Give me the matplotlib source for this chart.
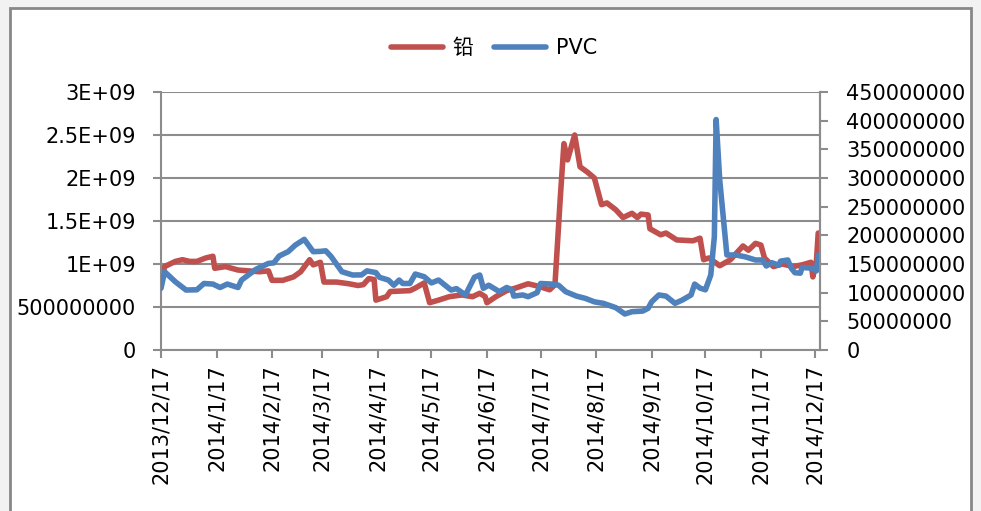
import matplotlib
matplotlib.use('Agg')
import matplotlib.pyplot as plt
from matplotlib.patches import Rectangle
from matplotlib.ticker import FixedLocator, FuncFormatter
import numpy as np

plt.rcParams['font.family'] = ['DejaVu Sans', 'Noto Sans CJK SC']

# ------------------------------- data ------------------------------------- #
start = np.datetime64('2013-12-17')

# 铅 (left axis), days since 2013/12/17 and value in units of 1e9
lead_days = [0, 2, 8, 12, 16, 20, 25, 29, 30, 36, 43, 49, 55, 60, 62, 68, 74, 78,
             83, 85, 89, 91, 98, 105, 110, 113, 116, 119, 120, 126, 128, 139, 142,
             147, 150, 155, 161, 168, 174, 178, 181, 182, 187, 193, 198, 205, 211,
             217, 220, 223, 225, 227, 231, 234, 238, 242, 246, 249, 254, 258, 263,
             266, 268, 272, 273, 279, 282, 288, 297, 301, 303, 306, 312, 318, 325,
             328, 332, 335, 337, 342, 347, 353, 358, 363, 364, 366, 367]
lead_vals = [0.78, 0.97, 1.03, 1.05, 1.03, 1.03, 1.07, 1.09, 0.95, 0.97, 0.93, 0.92,
             0.91, 0.92, 0.81, 0.81, 0.85, 0.91, 1.05, 0.99, 1.02, 0.79, 0.79, 0.77,
             0.75, 0.76, 0.83, 0.82, 0.58, 0.62, 0.68, 0.69, 0.72, 0.78, 0.55, 0.58,
             0.62, 0.64, 0.62, 0.66, 0.62, 0.55, 0.62, 0.69, 0.72, 0.77, 0.74, 0.70,
             0.76, 1.78, 2.40, 2.21, 2.50, 2.13, 2.07, 2.00, 1.69, 1.71, 1.63, 1.54,
             1.59, 1.54, 1.58, 1.57, 1.41, 1.34, 1.36, 1.28, 1.27, 1.30, 1.05, 1.07,
             0.98, 1.05, 1.21, 1.16, 1.24, 1.22, 1.07, 0.97, 1.00, 0.97, 0.99, 1.02,
             0.85, 1.03, 1.36]

# PVC (right axis), days since 2013/12/17 and value in millions
pvc_days = [0, 2, 8, 14, 20, 24, 29, 33, 37, 43, 45, 53, 60, 63, 66, 71, 75, 80, 85,
            89, 92, 95, 101, 107, 112, 115, 120, 122, 127, 130, 133, 135, 139, 142,
            147, 151, 155, 162, 165, 170, 175, 178, 180, 183, 189, 193, 196, 197, 202,
            205, 210, 212, 218, 222, 226, 232, 237, 242, 247, 254, 259, 263, 269, 272,
            274, 278, 282, 287, 291, 296, 298, 301, 304, 307, 309, 310, 312, 316, 321,
            326, 332, 336, 338, 341, 345, 346, 350, 352, 354, 357, 358, 364, 366, 367]
pvc_vals = [107.6, 136.6, 119, 104.6, 105, 116, 115, 109, 115, 109, 122, 140.7, 151,
            152, 164, 171.5, 183, 193, 171.5, 172, 173, 163, 136.6, 130.8, 131, 138,
            135, 126.8, 122, 113, 122, 116, 116, 132.5, 127.8, 117, 122, 104.6, 107,
            96, 126.8, 130.8, 107.6, 113, 101.7, 109, 105, 94, 96, 93, 100, 116, 115,
            113, 101.7, 94, 90, 84, 81.4, 73.8, 62.8, 66.8, 67.9, 72.7, 84, 96, 94,
            81.4, 87, 96, 115, 108, 105, 130.8, 197.7, 402, 296.5, 165.7, 165.7, 162.7,
            157, 157, 146.5, 152.3, 148, 155, 157, 142.5, 134.8, 134, 144, 142.5, 138,
            165.7]

left_ticks = [0, 500000000, 1e9, 1.5e9, 2e9, 2.5e9, 3e9]
left_labels = ['0', '500000000', '1E+09', '1.5E+09', '2E+09', '2.5E+09', '3E+09']
right_ticks = list(range(0, 450000001, 50000000))
month_ticks = ['2013-12-17', '2014-01-17', '2014-02-17', '2014-03-17', '2014-04-17',
               '2014-05-17', '2014-06-17', '2014-07-17', '2014-08-17', '2014-09-17',
               '2014-10-17', '2014-11-17', '2014-12-17']

# ------------------------------- figure ----------------------------------- #
RED = '#C0504D'
BLUE = '#4F81BD'
GRID = '#8C8C8C'
FS = 15

fig = plt.figure(figsize=(9.81, 5.11), dpi=100)
fig.patch.set_facecolor('#F2F2F2')
panel = Rectangle((10 / 981, -0.01), 961 / 981, 1 - 8 / 511 + 0.01,
                  transform=fig.transFigure, facecolor='white',
                  edgecolor='#878787', linewidth=2, zorder=-10)
fig.patches.append(panel)

ax = fig.add_axes([161 / 981, 1 - 350 / 511, 659 / 981, 258 / 511])
ax.patch.set_alpha(0)
ax2 = ax.twinx()
ax2.patch.set_alpha(0)

lead_x = start + np.array(lead_days).astype('timedelta64[D]')
pvc_x = start + np.array(pvc_days).astype('timedelta64[D]')
l1, = ax.plot(lead_x, np.array(lead_vals) * 1e9, color=RED, lw=4,
              solid_joinstyle='round', solid_capstyle='round', label='铅')
l2, = ax2.plot(pvc_x, np.array(pvc_vals) * 1e6, color=BLUE, lw=4,
               solid_joinstyle='round', solid_capstyle='round', label='PVC')

ax.set_xlim(start, start + np.timedelta64(368, 'D'))
ax.set_ylim(0, 3e9)
ax2.set_ylim(0, 450000000)

ax.yaxis.set_major_locator(FixedLocator(left_ticks))
ax.set_yticklabels(left_labels)
ax2.yaxis.set_major_locator(FixedLocator(right_ticks))
ax2.yaxis.set_major_formatter(FuncFormatter(lambda v, p: '%d' % v))

xt = [np.datetime64(d) for d in month_ticks]
ax.set_xticks(xt)
ax.set_xticklabels(['%d/%d/%d' % (d.astype(object).year, d.astype(object).month,
                                  d.astype(object).day) for d in xt], rotation=90)

ax.grid(axis='y', color=GRID, lw=1.5)
ax.set_axisbelow(True)
for a in (ax, ax2):
    for s in a.spines.values():
        s.set_color(GRID)
        s.set_linewidth(1.5)
    a.spines['top'].set_visible(False)
ax2.spines['left'].set_visible(False)
ax2.spines['bottom'].set_visible(False)

ax.tick_params(axis='y', length=6, width=1.5, color=GRID, pad=12, labelsize=FS)
ax.tick_params(axis='x', length=6, width=1.5, color=GRID, pad=4, labelsize=FS)
ax2.tick_params(axis='y', length=6, width=1.5, color=GRID, pad=13, labelsize=FS)

fig.legend(handles=[l1, l2], loc='center', bbox_to_anchor=(494 / 981, 1 - 48 / 511),
           ncol=2, frameon=False, fontsize=FS, handlelength=2.5, handletextpad=0.45,
           columnspacing=1.0)

fig.savefig('out.png', dpi=100, facecolor=fig.get_facecolor())
